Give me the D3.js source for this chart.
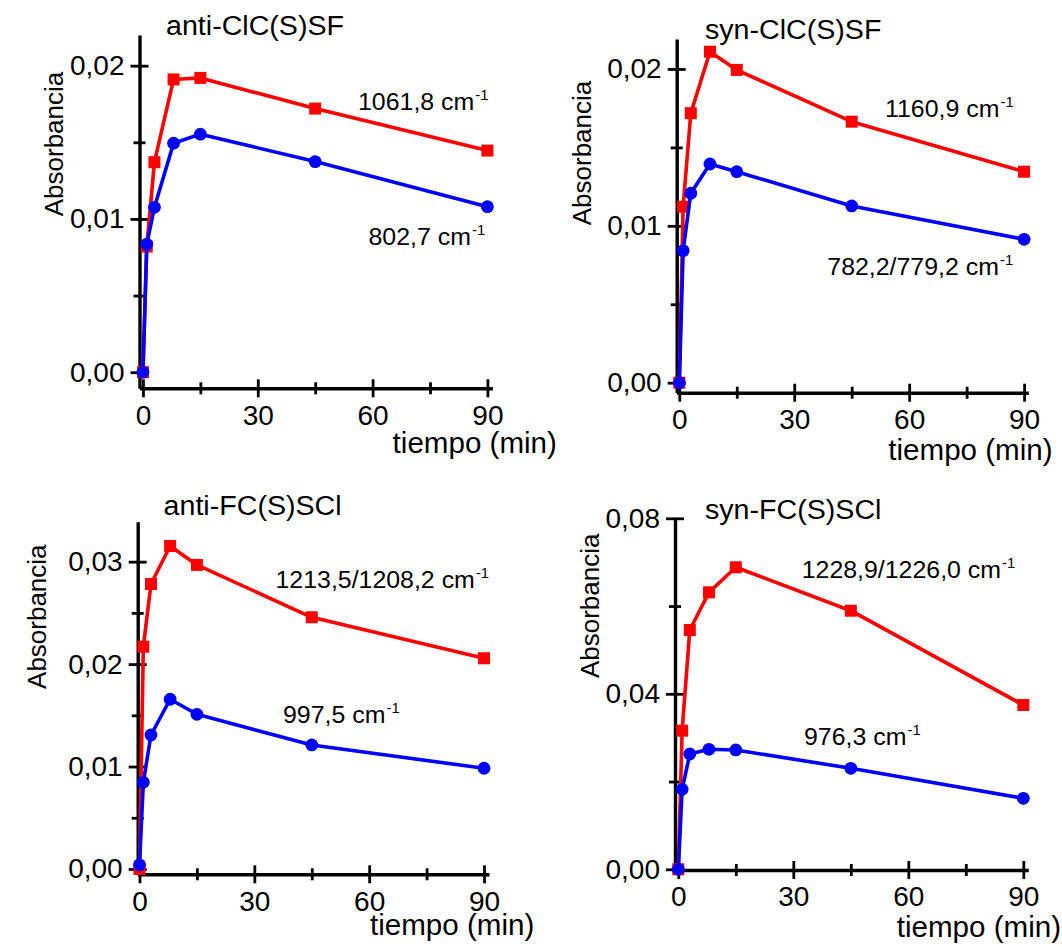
<!DOCTYPE html>
<html>
<head>
<meta charset="utf-8">
<script src="https://cdn.jsdelivr.net/npm/d3@7"></script>
<style>
  html, body { margin: 0; padding: 0; background: #ffffff; }
  svg { display: block; }
  text { font-family: "Liberation Sans", Arial, sans-serif; fill: #000; }
</style>
</head>
<body>
<svg id="chart" width="1062" height="947"></svg>
<script>
// ---------- data ----------
const times = [0, 1, 3, 8, 15, 45, 90];

const antiClCSSF_red  = [0, 0.0082, 0.0137, 0.0191, 0.0192, 0.0172, 0.01446];
const antiClCSSF_blue = [0, 0.00835, 0.01076, 0.01494, 0.01553, 0.01374, 0.0108];

const synClCSSF_red  = [0, 0.01122, 0.01718, 0.0211, 0.01994, 0.01664, 0.01345];
const synClCSSF_blue = [0, 0.00842, 0.01208, 0.01394, 0.01345, 0.01127, 0.00914];

const antiFCSSCl_red  = [0, 0.0217, 0.02782, 0.03153, 0.02968, 0.02457, 0.02057];
const antiFCSSCl_blue = [0.0004, 0.00846, 0.01308, 0.01657, 0.0151, 0.01211, 0.00983];

const synFCSSCl_red  = [0, 0.0316, 0.05454, 0.06313, 0.06883, 0.05894, 0.03745];
const synFCSSCl_blue = [0, 0.01823, 0.02628, 0.02735, 0.0272, 0.02302, 0.01618];

const titles = ["anti-ClC(S)SF", "syn-ClC(S)SF", "anti-FC(S)SCl", "syn-FC(S)SCl"];
const redLabels  = ["1061,8 cm", "1160,9 cm", "1213,5/1208,2 cm", "1228,9/1226,0 cm"];
const blueLabels = ["802,7 cm", "782,2/779,2 cm", "997,5 cm", "976,3 cm"];
const xMajorTicks = [0, 30, 60, 90];
const xMinorTicks = [15, 45, 75];
const yMajorTicks = [[0, 0.01, 0.02], [0, 0.01, 0.02], [0, 0.01, 0.02, 0.03], [0, 0.04, 0.08]];
const yMinorTicks = [[0.005, 0.015], [0.005, 0.015], [0.005, 0.015, 0.025], [0.02, 0.06]];
const xTitle = "tiempo (min)";
const yTitle = "Absorbancia";

const redSeries  = [antiClCSSF_red, synClCSSF_red, antiFCSSCl_red, synFCSSCl_red];
const blueSeries = [antiClCSSF_blue, synClCSSF_blue, antiFCSSCl_blue, synFCSSCl_blue];

// ---------- layout (pixels) ----------
const layout = [
  { xr: [139.5, 492.4], xd: [-0.9, 91.3], yr: [388.3, 35], yd: [-0.00105, 0.0220],
    title: [166, 35], red: [358, 110], blue: [368.5, 245], xl: [392.6, 453.3], yl: [63, 144] },
  { xr: [676.7, 1028.3], xd: [-0.68, 91.1], yr: [392.7, 39], yd: [-0.000638, 0.02191],
    title: [705, 38.8], red: [885, 116.7], blue: [827.3, 275], xl: [888.3, 460], yl: [591, 153] },
  { xr: [137.7, 489], xd: [-0.47, 91.3], yr: [874.3, 521.7], yd: [-0.00052, 0.0339],
    title: [163.6, 515], red: [275.5, 588.3], blue: [283, 723.3], xl: [370, 935], yl: [46, 616.7] },
  { xr: [675, 1028.3], xd: [-0.86, 91.3], yr: [870, 518.3], yd: [-0.00016, 0.08],
    title: [705, 519], red: [801.7, 578.3], blue: [804, 745], xl: [896.7, 936.7], yl: [599, 605.8] }
];

const RED = "#ff0000", BLUE = "#0000ff";
const svg = d3.select("#chart");
const commaFmt = v => d3.format(".2f")(v).replace(".", ",");

function stretchedText(g, x, y, str, size, sx) {
  return g.append("text")
    .attr("transform", `translate(${x},${y}) scale(${sx},1)`)
    .attr("font-size", size)
    .text(str);
}

function annotation(g, x, y, str) {
  const t = g.append("text")
    .attr("transform", `translate(${x},${y}) scale(1.06,1)`)
    .attr("font-size", 23.5);
  t.append("tspan").text(str);
  t.append("tspan").attr("font-size", 14).attr("dy", -10).attr("dx", 1).text("-1");
}

layout.forEach((L, i) => {
  const g = svg.append("g");
  const x = d3.scaleLinear().domain(L.xd).range(L.xr);
  const y = d3.scaleLinear().domain(L.yd).range(L.yr);
  const y0 = L.yr[0], x0 = L.xr[0];

  // x axis: minor then major
  const gxMin = g.append("g").attr("transform", `translate(0,${y0})`)
    .call(d3.axisBottom(x).tickValues(xMinorTicks).tickSize(6).tickSizeOuter(0).tickFormat(""));
  gxMin.select(".domain").remove();
  gxMin.selectAll(".tick line").attr("y1", -6).attr("y2", 6).attr("stroke-width", 2.8);

  const gx = g.append("g").attr("transform", `translate(0,${y0})`)
    .call(d3.axisBottom(x).tickValues(xMajorTicks).tickSize(9).tickSizeOuter(0).tickPadding(7.5).tickFormat(d3.format("d")));
  gx.select(".domain").attr("stroke-width", 3.4);
  gx.selectAll(".tick line").attr("y1", -9).attr("y2", 9).attr("stroke-width", 2.8);
  gx.selectAll(".tick text").attr("font-size", 28).attr("font-family", "Liberation Sans, Arial, sans-serif").attr("fill", "#000");

  // y axis
  const gyMin = g.append("g").attr("transform", `translate(${x0},0)`)
    .call(d3.axisLeft(y).tickValues(yMinorTicks[i]).tickSize(6).tickSizeOuter(0).tickFormat(""));
  gyMin.select(".domain").remove();
  gyMin.selectAll(".tick line").attr("x1", -6).attr("x2", 6).attr("stroke-width", 2.8);

  const gy = g.append("g").attr("transform", `translate(${x0},0)`)
    .call(d3.axisLeft(y).tickValues(yMajorTicks[i]).tickSize(9).tickSizeOuter(0).tickPadding(6).tickFormat(commaFmt));
  gy.select(".domain").attr("stroke-width", 3.4);
  gy.selectAll(".tick line").attr("x1", -9).attr("x2", 9).attr("stroke-width", 2.8);
  gy.selectAll(".tick text").attr("font-size", 28).attr("font-family", "Liberation Sans, Arial, sans-serif").attr("fill", "#000");

  // series
  const line = d3.line().x((d, k) => x(times[k])).y(d => y(d));
  const sq = 12;
  [[redSeries[i], RED, "square"], [blueSeries[i], BLUE, "circle"]].forEach(([vals, col, shape]) => {
    g.append("path").datum(vals).attr("d", line)
      .attr("fill", "none").attr("stroke", col).attr("stroke-width", 3.6).attr("stroke-linejoin", "round");
    if (shape === "square") {
      g.selectAll(null).data(vals).enter().append("rect")
        .attr("x", (d, k) => x(times[k]) - sq / 2).attr("y", d => y(d) - sq / 2)
        .attr("width", sq).attr("height", sq).attr("fill", col);
    } else {
      g.selectAll(null).data(vals).enter().append("circle")
        .attr("cx", (d, k) => x(times[k])).attr("cy", d => y(d))
        .attr("r", 6.4).attr("fill", col);
    }
  });

  // texts
  stretchedText(g, L.title[0], L.title[1], titles[i], 27, 1.06);
  annotation(g, L.red[0], L.red[1], redLabels[i]);
  annotation(g, L.blue[0], L.blue[1], blueLabels[i]);
  stretchedText(g, L.xl[0], L.xl[1], xTitle, 29, 1.02);
  g.append("text")
    .attr("transform", `translate(${L.yl[0]},${L.yl[1]}) rotate(-90)`)
    .attr("text-anchor", "middle").attr("font-size", 26).text(yTitle);
});
</script>
</body>
</html>
